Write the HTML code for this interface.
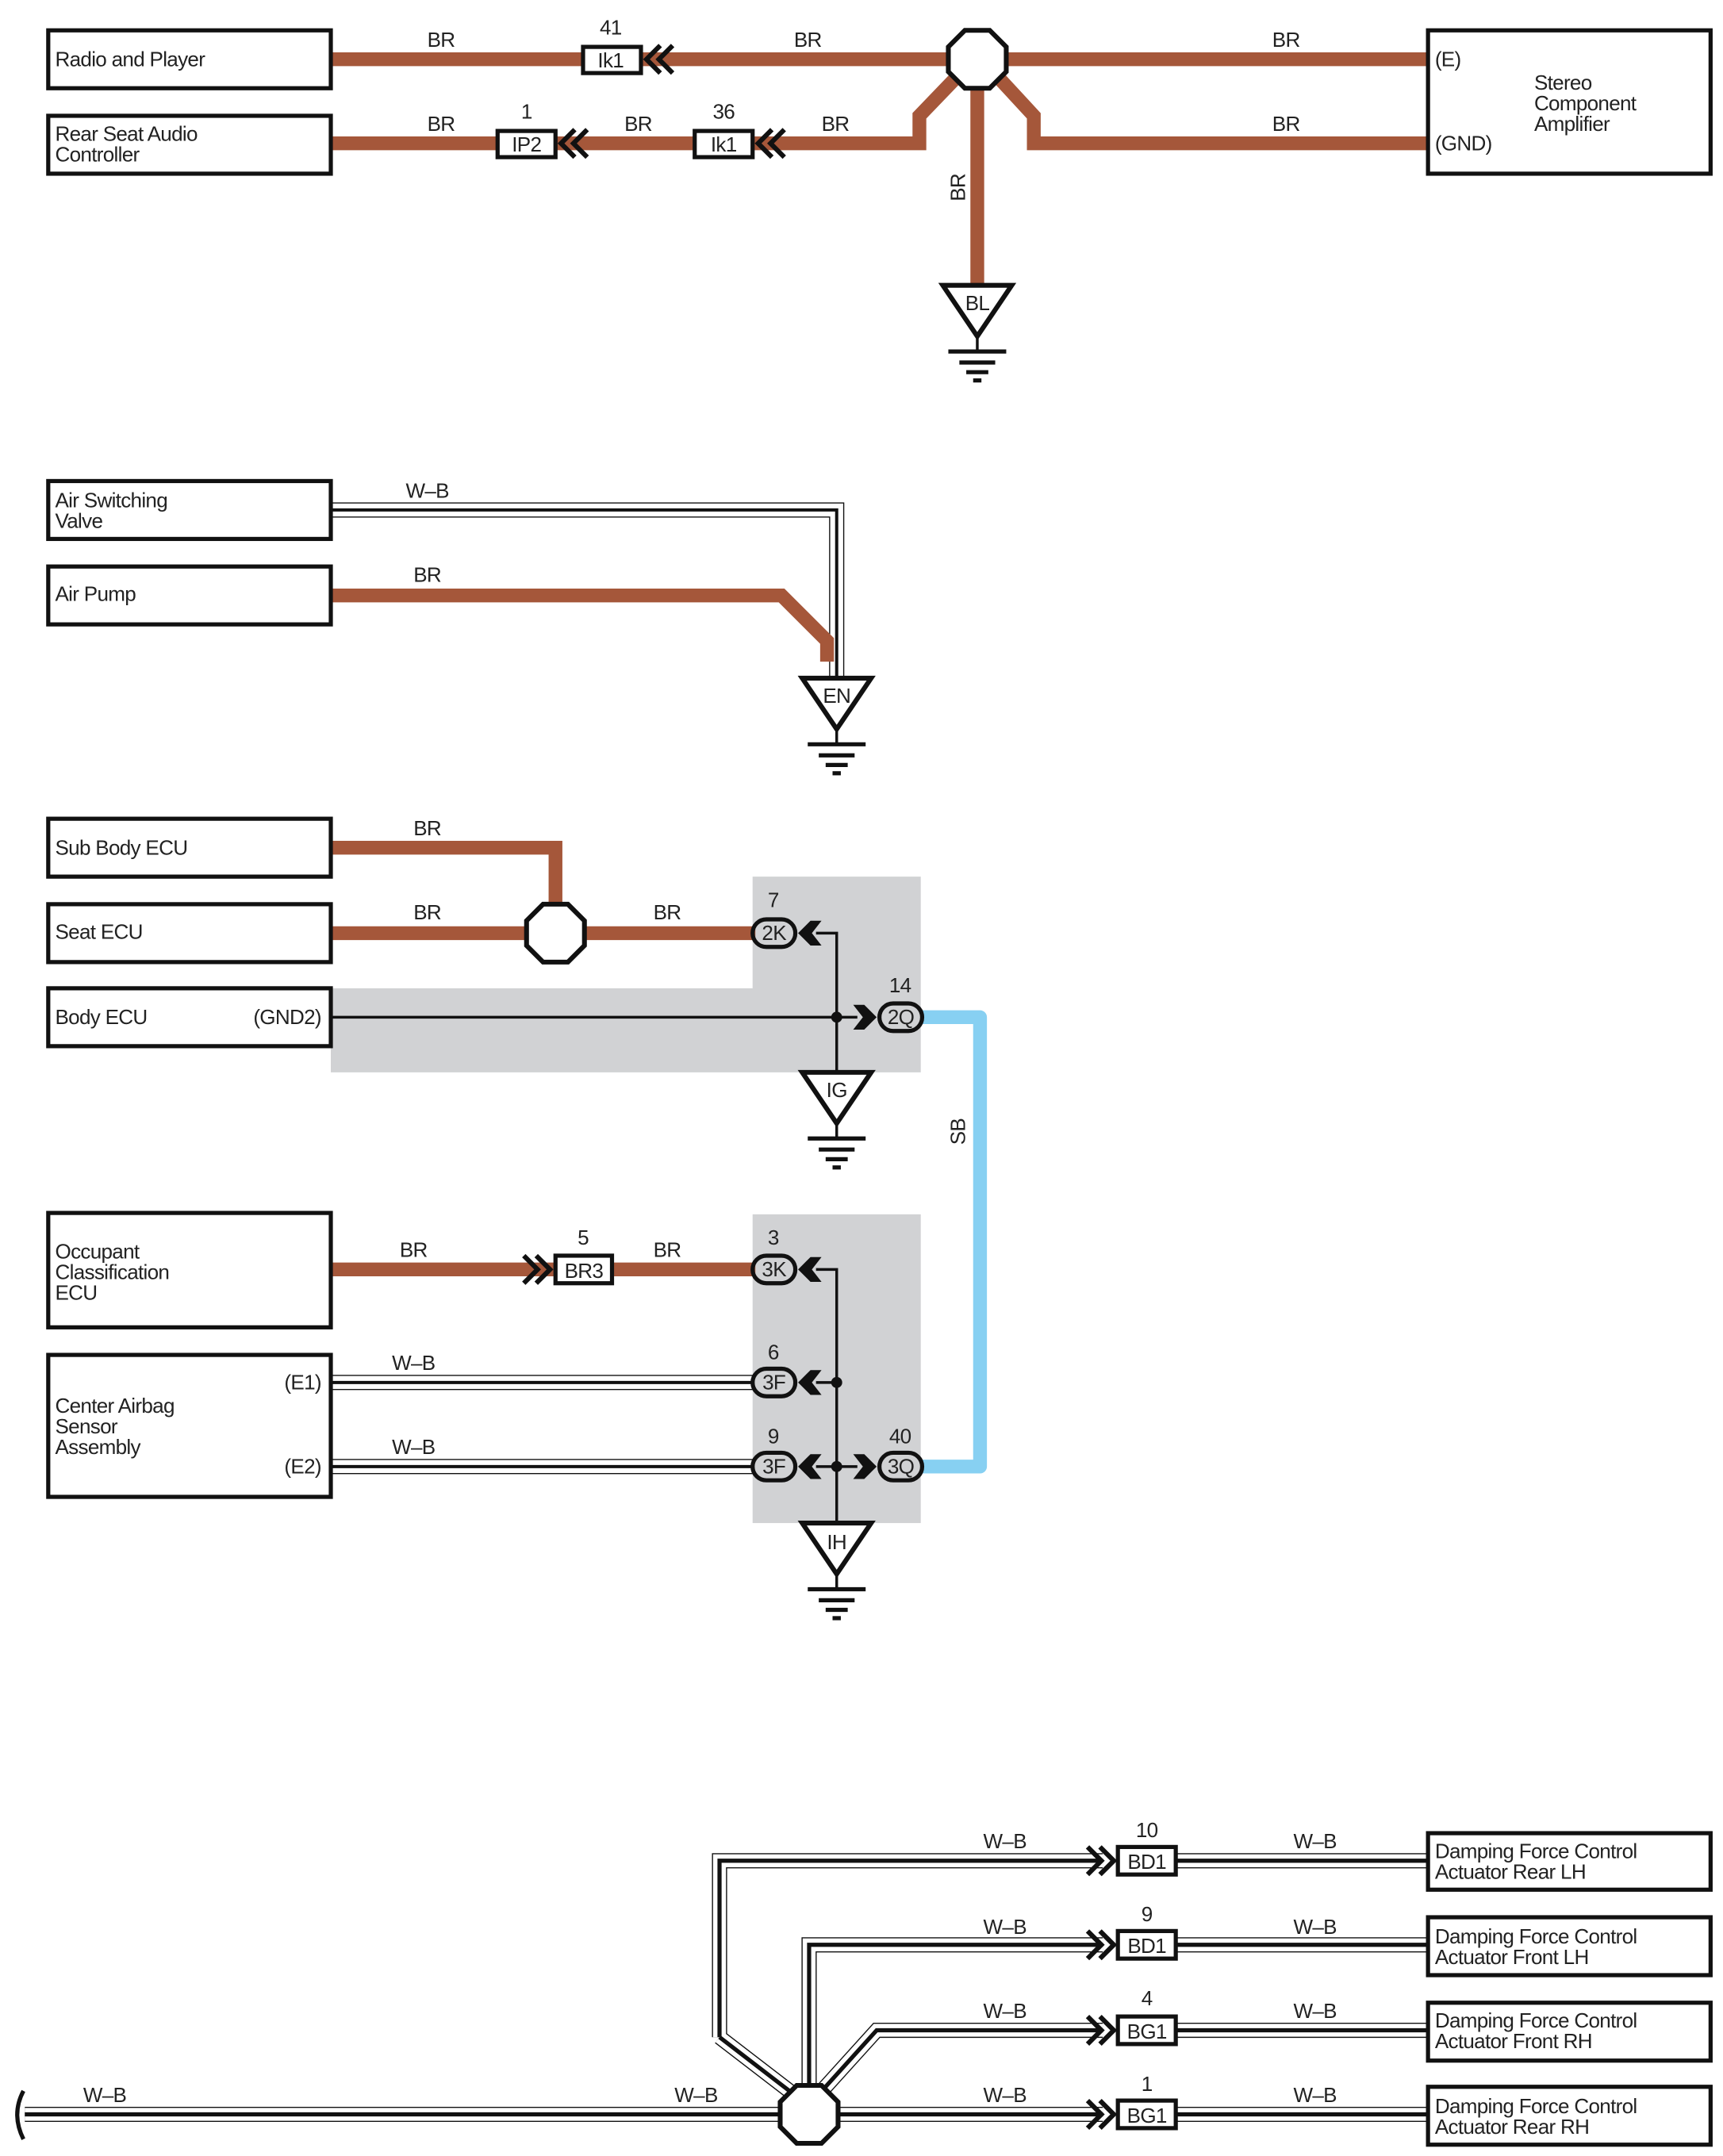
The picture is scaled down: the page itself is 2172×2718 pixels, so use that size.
<!DOCTYPE html>
<html><head><meta charset="utf-8"><style>
html,body{margin:0;padding:0;background:#fff;}
svg{display:block;}
text{font-family:"Liberation Sans",sans-serif;font-size:15px;fill:#222;letter-spacing:-0.4px;}
</style></head><body>
<svg width="2172" height="2718" viewBox="0 0 1250 1564.2" xmlns="http://www.w3.org/2000/svg">
<defs>
<g id="chL"><polyline points="10,-10 0,0 10,10" fill="none" stroke="#111" stroke-width="3.5"/><polyline points="19,-10 9,0 19,10" fill="none" stroke="#111" stroke-width="3.5"/></g>
<g id="chR"><polyline points="-10,-10 0,0 -10,10" fill="none" stroke="#111" stroke-width="3.5"/><polyline points="-19,-10 -9,0 -19,10" fill="none" stroke="#111" stroke-width="3.5"/></g>
<polygon id="fL" points="0,0 9,-9 17,-9 10,0 17,9 9,9" fill="#111"/>
<polygon id="fR" points="0,0 -9,-9 -17,-9 -10,0 -17,9 -9,9" fill="#111"/>
<polygon id="oct" points="-9,-21 9,-21 21,-9 21,9 9,21 -9,21 -21,9 -21,-9" fill="#fff" stroke="#111" stroke-width="3.5"/>
<g id="gnd"><polygon points="-25,0 25,0 0,37" fill="#fff" stroke="#111" stroke-width="3.5"/><line x1="0" y1="37" x2="0" y2="48" stroke="#111" stroke-width="2"/><line x1="-21" y1="48" x2="21" y2="48" stroke="#111" stroke-width="3"/><line x1="-13" y1="56" x2="13" y2="56" stroke="#111" stroke-width="3"/><line x1="-8" y1="63" x2="8" y2="63" stroke="#111" stroke-width="3"/><line x1="-3" y1="69" x2="3" y2="69" stroke="#111" stroke-width="3"/></g>
</defs>

<polygon points="546,636 668,636 668,778 240,778 240,717 546,717" fill="#d1d2d4"/>
<rect x="546" y="881" width="122" height="224" fill="#d1d2d4"/>

<g fill="none" stroke="#a5573a" stroke-width="10">
<path d="M240,43 H1036"/>
<path d="M240,104 H667 V84 L692,58"/>
<path d="M726,58 L750,84 V104 H1036"/>
<path d="M709,60 V208"/>
</g>
<g fill="#fff" stroke="#111" stroke-width="3">
<rect x="423" y="34" width="42" height="19"/>
<rect x="361" y="95" width="42" height="19"/>
<rect x="504" y="95" width="42" height="19"/>
</g>
<use href="#chL" x="469" y="43"/><use href="#chL" x="407" y="104"/><use href="#chL" x="550" y="104"/>
<use href="#oct" x="709" y="43"/>
<use href="#gnd" x="709" y="207"/>
<text x="443" y="49" text-anchor="middle">Ik1</text>
<text x="382" y="110" text-anchor="middle">IP2</text>
<text x="525" y="110" text-anchor="middle">Ik1</text>
<text x="443" y="25" text-anchor="middle">41</text>
<text x="382" y="86" text-anchor="middle">1</text>
<text x="525" y="86" text-anchor="middle">36</text>
<text x="709" y="225" text-anchor="middle">BL</text>
<g text-anchor="middle">
<text x="320" y="34">BR</text><text x="586" y="34">BR</text><text x="933" y="34">BR</text>
<text x="320" y="95">BR</text><text x="463" y="95">BR</text><text x="606" y="95">BR</text><text x="933" y="95">BR</text>
</g>
<text x="700" y="136" text-anchor="middle" transform="rotate(-90 700 136)">BR</text>

<path d="M240,370 H607 V492" fill="none" stroke="#111" stroke-width="11"/>
<path d="M240,370 H607 V492" fill="none" stroke="#fff" stroke-width="9.4"/>
<path d="M240,370 H607 V492" fill="none" stroke="#111" stroke-width="2.3"/>
<path d="M240,432 H567 L600,465 V480" fill="none" stroke="#a5573a" stroke-width="10"/>
<use href="#gnd" x="607" y="492"/>
<text x="607" y="510" text-anchor="middle">EN</text>
<text x="310" y="361" text-anchor="middle">W–B</text>
<text x="310" y="422" text-anchor="middle">BR</text>

<path d="M240,615 H403 V660" fill="none" stroke="#a5573a" stroke-width="10"/>
<path d="M240,677 H548" fill="none" stroke="#a5573a" stroke-width="10"/>
<use href="#oct" x="403" y="677"/>
<path d="M668,738 H711 V1064 H668" fill="none" stroke="#87d0f2" stroke-width="10" stroke-linejoin="round"/>
<path d="M592,677 H607 V778 M240,738 H622" fill="none" stroke="#111" stroke-width="2"/>
<circle cx="607" cy="738" r="4" fill="#111"/>
<use href="#fL" x="579" y="677"/>
<use href="#fR" x="636" y="738"/>
<rect x="546" y="667" width="31" height="20" rx="10" fill="none" stroke="#111" stroke-width="3"/>
<rect x="638" y="728" width="31" height="20" rx="10" fill="none" stroke="#111" stroke-width="3"/>
<text x="561.5" y="682" text-anchor="middle">2K</text>
<text x="653.5" y="743" text-anchor="middle">2Q</text>
<text x="561" y="658" text-anchor="middle">7</text>
<text x="653" y="720" text-anchor="middle">14</text>
<use href="#gnd" x="607" y="778"/>
<text x="607" y="796" text-anchor="middle">IG</text>
<text x="310" y="606" text-anchor="middle">BR</text>
<text x="310" y="667" text-anchor="middle">BR</text>
<text x="484" y="667" text-anchor="middle">BR</text>
<text x="700" y="821" text-anchor="middle" transform="rotate(-90 700 821)">SB</text>

<path d="M240,921 H548" fill="none" stroke="#a5573a" stroke-width="10"/>
<rect x="403" y="911" width="41" height="20" fill="#fff" stroke="#111" stroke-width="3"/>
<use href="#chR" x="399" y="921"/>
<text x="423.5" y="927" text-anchor="middle">BR3</text>
<text x="423" y="903" text-anchor="middle">5</text>
<g fill="none">
<path d="M240,1003 H546 M240,1064 H546" stroke="#111" stroke-width="11"/>
<path d="M240,1003 H546 M240,1064 H546" stroke="#fff" stroke-width="9.4"/>
<path d="M240,1003 H546 M240,1064 H546" stroke="#111" stroke-width="2.3"/>
<path d="M592,921 H607 V1105 M592,1003 H607 M592,1064 H622" stroke="#111" stroke-width="2"/>
</g>
<circle cx="607" cy="1003" r="4" fill="#111"/><circle cx="607" cy="1064" r="4" fill="#111"/>
<use href="#fL" x="579" y="921"/><use href="#fL" x="579" y="1003"/><use href="#fL" x="579" y="1064"/>
<use href="#fR" x="636" y="1064"/>
<g fill="none" stroke="#111" stroke-width="3">
<rect x="546" y="911" width="31" height="20" rx="10"/>
<rect x="546" y="993" width="31" height="20" rx="10"/>
<rect x="546" y="1054" width="31" height="20" rx="10"/>
<rect x="638" y="1054" width="31" height="20" rx="10"/>
</g>
<text x="561.5" y="926" text-anchor="middle">3K</text>
<text x="561.5" y="1008" text-anchor="middle">3F</text>
<text x="561.5" y="1069" text-anchor="middle">3F</text>
<text x="653.5" y="1069" text-anchor="middle">3Q</text>
<text x="561" y="903" text-anchor="middle">3</text>
<text x="561" y="986" text-anchor="middle">6</text>
<text x="561" y="1047" text-anchor="middle">9</text>
<text x="653" y="1047" text-anchor="middle">40</text>
<use href="#gnd" x="607" y="1105"/>
<text x="607" y="1124" text-anchor="middle">IH</text>
<text x="300" y="912" text-anchor="middle">BR</text>
<text x="484" y="912" text-anchor="middle">BR</text>
<text x="300" y="994" text-anchor="middle">W–B</text>
<text x="300" y="1055" text-anchor="middle">W–B</text>

<g fill="none">
<path d="M18,1534 H800 M522,1478 V1350 H800 M587,1512 V1411 H800 M598,1515 L636,1473 H800 M853,1350 H1036 M853,1411 H1036 M853,1473 H1036 M853,1534 H1036 M522,1478 L574,1518" stroke="#111" stroke-width="11"/>
<path d="M18,1534 H800 M522,1478 V1350 H800 M587,1512 V1411 H800 M598,1515 L636,1473 H800 M853,1350 H1036 M853,1411 H1036 M853,1473 H1036 M853,1534 H1036 M522,1478 L574,1518" stroke="#fff" stroke-width="9.4"/>
<path d="M18,1534 H800 M522,1478 V1350 H800 M587,1512 V1411 H800 M598,1515 L636,1473 H800 M853,1350 H1036 M853,1411 H1036 M853,1473 H1036 M853,1534 H1036 M522,1478 L574,1518" stroke="#111" stroke-width="3"/>
</g>
<path d="M17,1517 Q8,1534 17,1552" fill="none" stroke="#111" stroke-width="3"/>
<use href="#oct" x="587" y="1534"/>
<g fill="#fff" stroke="#111" stroke-width="3">
<rect x="811" y="1340" width="42" height="20"/>
<rect x="811" y="1401" width="42" height="20"/>
<rect x="811" y="1463" width="42" height="20"/>
<rect x="811" y="1524" width="42" height="20"/>
</g>
<use href="#chR" x="808" y="1350"/><use href="#chR" x="808" y="1411"/><use href="#chR" x="808" y="1473"/><use href="#chR" x="808" y="1534"/>
<g text-anchor="middle">
<text x="832" y="1356">BD1</text><text x="832" y="1417">BD1</text><text x="832" y="1479">BG1</text><text x="832" y="1540">BG1</text>
<text x="832" y="1333">10</text><text x="832" y="1394">9</text><text x="832" y="1455">4</text><text x="832" y="1517">1</text>
<text x="729" y="1341">W–B</text><text x="954" y="1341">W–B</text>
<text x="729" y="1403">W–B</text><text x="954" y="1403">W–B</text>
<text x="729" y="1464">W–B</text><text x="954" y="1464">W–B</text>
<text x="729" y="1525">W–B</text><text x="954" y="1525">W–B</text>
<text x="76" y="1525">W–B</text><text x="505" y="1525">W–B</text>
</g>

<g fill="none" stroke="#111" stroke-width="3">
<rect x="35" y="22" width="205" height="42"/>
<rect x="35" y="84" width="205" height="42"/>
<rect x="1036" y="22" width="205" height="104"/>
<rect x="35" y="349" width="205" height="42"/>
<rect x="35" y="411" width="205" height="42"/>
<rect x="35" y="594" width="205" height="42"/>
<rect x="35" y="656" width="205" height="42"/>
<rect x="35" y="717" width="205" height="42"/>
<rect x="35" y="880" width="205" height="83"/>
<rect x="35" y="983" width="205" height="103"/>
<rect x="1036" y="1330" width="205" height="41"/>
<rect x="1036" y="1391" width="205" height="42"/>
<rect x="1036" y="1453" width="205" height="42"/>
<rect x="1036" y="1514" width="205" height="42"/>
</g>
<text x="40" y="48">Radio and Player</text>
<text x="40" y="102">Rear Seat Audio</text><text x="40" y="117">Controller</text>
<text x="1113" y="65">Stereo</text><text x="1113" y="80">Component</text><text x="1113" y="95">Amplifier</text>
<text x="1041" y="48">(E)</text><text x="1041" y="109">(GND)</text>
<text x="40" y="368">Air Switching</text><text x="40" y="383">Valve</text>
<text x="40" y="436">Air Pump</text>
<text x="40" y="620">Sub Body ECU</text>
<text x="40" y="681">Seat ECU</text>
<text x="40" y="743">Body ECU</text><text x="233" y="743" text-anchor="end">(GND2)</text>
<text x="40" y="913">Occupant</text><text x="40" y="928">Classification</text><text x="40" y="943">ECU</text>
<text x="40" y="1025">Center Airbag</text><text x="40" y="1040">Sensor</text><text x="40" y="1055">Assembly</text>
<text x="233" y="1008" text-anchor="end">(E1)</text><text x="233" y="1069" text-anchor="end">(E2)</text>
<text x="1041" y="1348">Damping Force Control</text><text x="1041" y="1363">Actuator Rear LH</text>
<text x="1041" y="1410">Damping Force Control</text><text x="1041" y="1425">Actuator Front LH</text>
<text x="1041" y="1471">Damping Force Control</text><text x="1041" y="1486">Actuator Front RH</text>
<text x="1041" y="1533">Damping Force Control</text><text x="1041" y="1548">Actuator Rear RH</text>
</svg>
</body></html>
